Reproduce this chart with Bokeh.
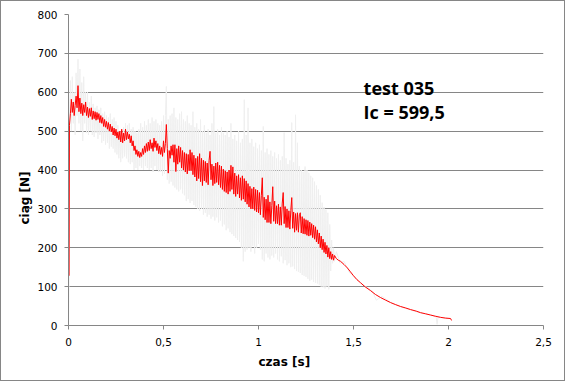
from bokeh.plotting import figure
from bokeh.models import Label, FixedTicker, Range1d, Title
from bokeh.embed import file_html
from bokeh.resources import INLINE

# ---------------- data ----------------
# sample times of the noisy part, in milliseconds
t_noisy_ms = [
    5, 10, 15, 20, 25, 30, 35, 40, 45, 50,
    55, 60, 65, 70, 75, 80, 85, 90, 95, 100,
    105, 110, 115, 120, 125, 130, 135, 140, 145, 150,
    155, 160, 165, 170, 175, 180, 185, 190, 195, 200,
    205, 210, 215, 220, 225, 230, 235, 240, 245, 250,
    255, 260, 265, 270, 275, 280, 285, 290, 295, 300,
    305, 310, 315, 320, 325, 330, 335, 340, 345, 350,
    355, 360, 365, 370, 375, 380, 385, 390, 395, 400,
    405, 410, 415, 420, 425, 430, 435, 440, 445, 450,
    455, 460, 465, 470, 475, 480, 485, 490, 495, 500,
    505, 510, 515, 520, 525, 530, 535, 540, 545, 550,
    555, 560, 565, 570, 575, 580, 585, 590, 595, 600,
    605, 610, 615, 620, 625, 630, 635, 640, 645, 650,
    655, 660, 665, 670, 675, 680, 685, 690, 695, 700,
    705, 710, 715, 720, 725, 730, 735, 740, 745, 750,
    755, 760, 765, 770, 775, 780, 785, 790, 795, 800,
    805, 810, 815, 820, 825, 830, 835, 840, 845, 850,
    855, 860, 865, 870, 875, 880, 885, 890, 895, 900,
    905, 910, 915, 920, 925, 930, 935, 940, 945, 950,
    955, 960, 965, 970, 975, 980, 985, 990, 995, 1000,
    1005, 1010, 1015, 1020, 1025, 1030, 1035, 1040, 1045, 1050,
    1055, 1060, 1065, 1070, 1075, 1080, 1085, 1090, 1095, 1100,
    1105, 1110, 1115, 1120, 1125, 1130, 1135, 1140, 1145, 1150,
    1155, 1160, 1165, 1170, 1175, 1180, 1185, 1190, 1195, 1200,
    1205, 1210, 1215, 1220, 1225, 1230, 1235, 1240, 1245, 1250,
    1255, 1260, 1265, 1270, 1275, 1280, 1285, 1290, 1295, 1300,
    1305, 1310, 1315, 1320, 1325, 1330, 1335, 1340, 1345, 1350,
    1355, 1360, 1365, 1370, 1375, 1380, 1385, 1390, 1395, 1400,
]

# filtered thrust (red), noisy part
red_noisy = [
    515, 545, 582, 548, 575, 540, 566, 590, 560, 617,
    550, 585, 545, 572, 540, 568, 548, 575, 540, 562,
    535, 558, 538, 560, 530, 552, 532, 550, 528, 548,
    530, 545, 522, 540, 520, 535, 512, 530, 510, 525,
    505, 522, 500, 518, 498, 512, 490, 508, 488, 505,
    482, 498, 478, 500, 472, 505, 470, 495, 475, 505,
    478, 498, 480, 492, 470, 488, 462, 475, 450, 462,
    440, 452, 435, 448, 432, 445, 435, 455, 440, 462,
    445, 468, 448, 472, 450, 478, 455, 470, 448, 482,
    458, 475, 450, 468, 442, 462, 440, 458, 435, 475,
    445, 468, 517, 455, 392, 450, 430, 462, 438, 465,
    420, 465, 396, 455, 415, 462, 420, 458, 405, 450,
    400, 445, 395, 442, 390, 440, 398, 452, 398, 445,
    388, 438, 382, 430, 372, 435, 378, 442, 370, 430,
    360, 425, 372, 422, 368, 418, 362, 425, 448, 375,
    415, 360, 410, 365, 418, 368, 420, 362, 412, 355,
    410, 350, 402, 345, 398, 342, 395, 338, 400, 345,
    412, 350, 408, 338, 392, 332, 385, 338, 388, 328,
    380, 322, 385, 325, 378, 318, 372, 312, 365, 305,
    358, 300, 352, 300, 356, 296, 350, 292, 348, 290,
    342, 285, 335, 380, 278, 330, 272, 325, 265, 335,
    265, 318, 262, 308, 357, 268, 320, 262, 308, 262,
    312, 258, 305, 258, 315, 342, 262, 306, 252, 300,
    252, 295, 248, 296, 329, 250, 292, 240, 288, 245,
    290, 240, 285, 290, 238, 280, 236, 275, 235, 272,
    232, 270, 230, 266, 232, 262, 226, 258, 222, 254,
    215, 246, 210, 238, 200, 230, 195, 222, 188, 214,
    184, 206, 176, 200, 172, 190, 170, 184, 168, 180,
]

# raw thrust (light grey), noisy part
grey_noisy = [
    520, 630, 500, 640, 520, 600, 490, 650, 540, 685,
    520, 660, 500, 625, 475, 640, 520, 600, 495, 600,
    490, 575, 500, 590, 490, 570, 485, 560, 495, 565,
    480, 555, 490, 560, 470, 545, 475, 550, 465, 540,
    470, 535, 455, 545, 460, 530, 455, 535, 445, 525,
    440, 515, 430, 500, 420, 495, 430, 510, 435, 520,
    430, 515, 420, 520, 415, 505, 420, 510, 400, 500,
    405, 495, 400, 505, 410, 520, 405, 510, 400, 525,
    410, 515, 405, 530, 400, 520, 405, 535, 395, 525,
    410, 530, 400, 520, 395, 515, 395, 525, 385, 540,
    390, 540, 615, 375, 530, 365, 540, 370, 545, 360,
    560, 355, 535, 350, 530, 345, 545, 350, 550, 340,
    530, 335, 525, 320, 540, 325, 520, 315, 515, 320,
    550, 310, 510, 305, 520, 300, 505, 295, 530, 300,
    500, 285, 515, 290, 495, 280, 505, 285, 490, 275,
    520, 280, 563, 270, 495, 278, 505, 265, 490, 270,
    510, 255, 495, 260, 490, 245, 500, 250, 485, 240,
    520, 235, 480, 230, 490, 225, 475, 220, 500, 215,
    470, 200, 480, 165, 581, 190, 490, 195, 560, 200,
    470, 190, 480, 205, 460, 185, 470, 200, 455, 210,
    465, 195, 450, 170, 512, 165, 445, 185, 455, 175,
    440, 170, 450, 180, 435, 175, 445, 185, 430, 170,
    440, 165, 425, 178, 435, 160, 496, 168, 430, 155,
    415, 160, 425, 150, 522, 152, 420, 145, 542, 140,
    470, 138, 410, 135, 400, 130, 395, 128, 409, 125,
    400, 120, 393, 115, 385, 118, 380, 112, 370, 110,
    360, 108, 350, 105, 335, 100, 316, 98, 305, 95,
    298, 100, 290, 93, 260, 140, 220, 160, 200, 165,
]

# start of the run
t_red_start = [0.003]
red_start = [128]
t_grey_start = [0.000, 0.003]
grey_start = [0, 140]

# smooth tail after the burn
t_red_tail = [1.41, 1.42, 1.432, 1.45, 1.468, 1.484, 1.5, 1.518, 1.537, 1.56,
              1.589, 1.615, 1.642, 1.67, 1.695, 1.72, 1.747, 1.775, 1.8, 1.83,
              1.853, 1.88, 1.905, 1.93, 1.958, 1.985, 2.011, 2.016]
red_tail = [172, 168, 165, 157, 148, 138, 128, 118, 110, 100,
            90, 80, 72, 65, 59, 54, 49, 45, 41, 37,
            33, 30, 27, 24, 21, 19, 18, 13]

t_grey_tail = [1.41, 1.43, 1.45, 1.48, 1.5, 1.55, 1.6, 1.62, 1.65, 1.7,
               1.75, 1.8, 1.85, 1.9, 1.935, 1.94, 1.945, 2.0]
grey_tail = [190, 160, 165, 135, 128, 105, 88, 65, 75, 58,
             48, 40, 33, 28, 22, 3, 22, 18]

x_ticks = [0, 0.5, 1, 1.5, 2, 2.5]
x_tick_labels = ["0", "0,5", "1", "1,5", "2", "2,5"]
y_ticks = [0, 100, 200, 300, 400, 500, 600, 700, 800]

title_lines = ["test 035", "Ic = 599,5"]
x_title = "czas [s]"
y_title = "ciąg [N]"

# ---------------- assemble ----------------
t_noisy = [v / 1000.0 for v in t_noisy_ms]
t_red = t_red_start + t_noisy + t_red_tail
f_red = red_start + red_noisy + red_tail
t_grey = t_grey_start + t_noisy + t_grey_tail
f_grey = grey_start + grey_noisy + grey_tail

GRID = "#868686"

p = figure(width=565, height=381,
           x_range=Range1d(0, 2.5), y_range=Range1d(0, 800),
           output_backend="svg", toolbar_location=None,
           min_border_left=67, min_border_right=23,
           min_border_top=13, min_border_bottom=57)
p.styles = {"border": "1px solid #868686"}

p.outline_line_color = None
p.background_fill_color = "white"
p.border_fill_color = "white"

p.xgrid.visible = False
p.ygrid.grid_line_color = GRID
p.ygrid.grid_line_width = 1
p.ygrid.ticker = FixedTicker(ticks=y_ticks)

p.xaxis.ticker = FixedTicker(ticks=x_ticks)
p.xaxis.major_label_overrides = {float(k): lab for k, lab in zip(x_ticks, x_tick_labels)}
p.yaxis.ticker = FixedTicker(ticks=y_ticks)

for ax in (p.xaxis[0], p.yaxis[0]):
    ax.axis_line_color = GRID
    ax.axis_line_width = 1
    ax.major_tick_line_color = GRID
    ax.major_tick_out = 4
    ax.major_tick_in = 0
    ax.minor_tick_line_color = None
    ax.major_label_text_font = "DejaVu Sans"
    ax.major_label_text_font_size = "10.5px"
    ax.major_label_text_color = "#000000"
p.yaxis.major_label_standoff = 7
p.xaxis.major_label_standoff = 8

p.line(t_grey, f_grey, line_color="#EFEFEF", line_width=1)
p.line(t_red, f_red, line_color="#FF0000", line_width=1)

# axis titles (as side titles so they can be offset like in the reference)
p.add_layout(Title(text=x_title, align="left", offset=190, standoff=9,
                   text_font="DejaVu Sans", text_font_style="bold",
                   text_font_size="12px", text_color="#000000"), "below")
p.add_layout(Title(text=y_title, align="left", offset=101, standoff=6,
                   text_font="DejaVu Sans", text_font_style="bold",
                   text_font_size="12px", text_color="#000000"), "left")

# annotation
p.add_layout(Label(x=1.553, y=612, text=title_lines[0], text_align="left",
                   text_baseline="alphabetic", text_font="Open Sans",
                   text_font_style="bold", text_font_size="18px",
                   text_color="#000000"))
p.add_layout(Label(x=1.553, y=548, text=title_lines[1], text_align="left",
                   text_baseline="alphabetic", text_font="Open Sans",
                   text_font_style="bold", text_font_size="18px",
                   text_color="#000000"))

open("out.html", "w").write(file_html(p, INLINE))
